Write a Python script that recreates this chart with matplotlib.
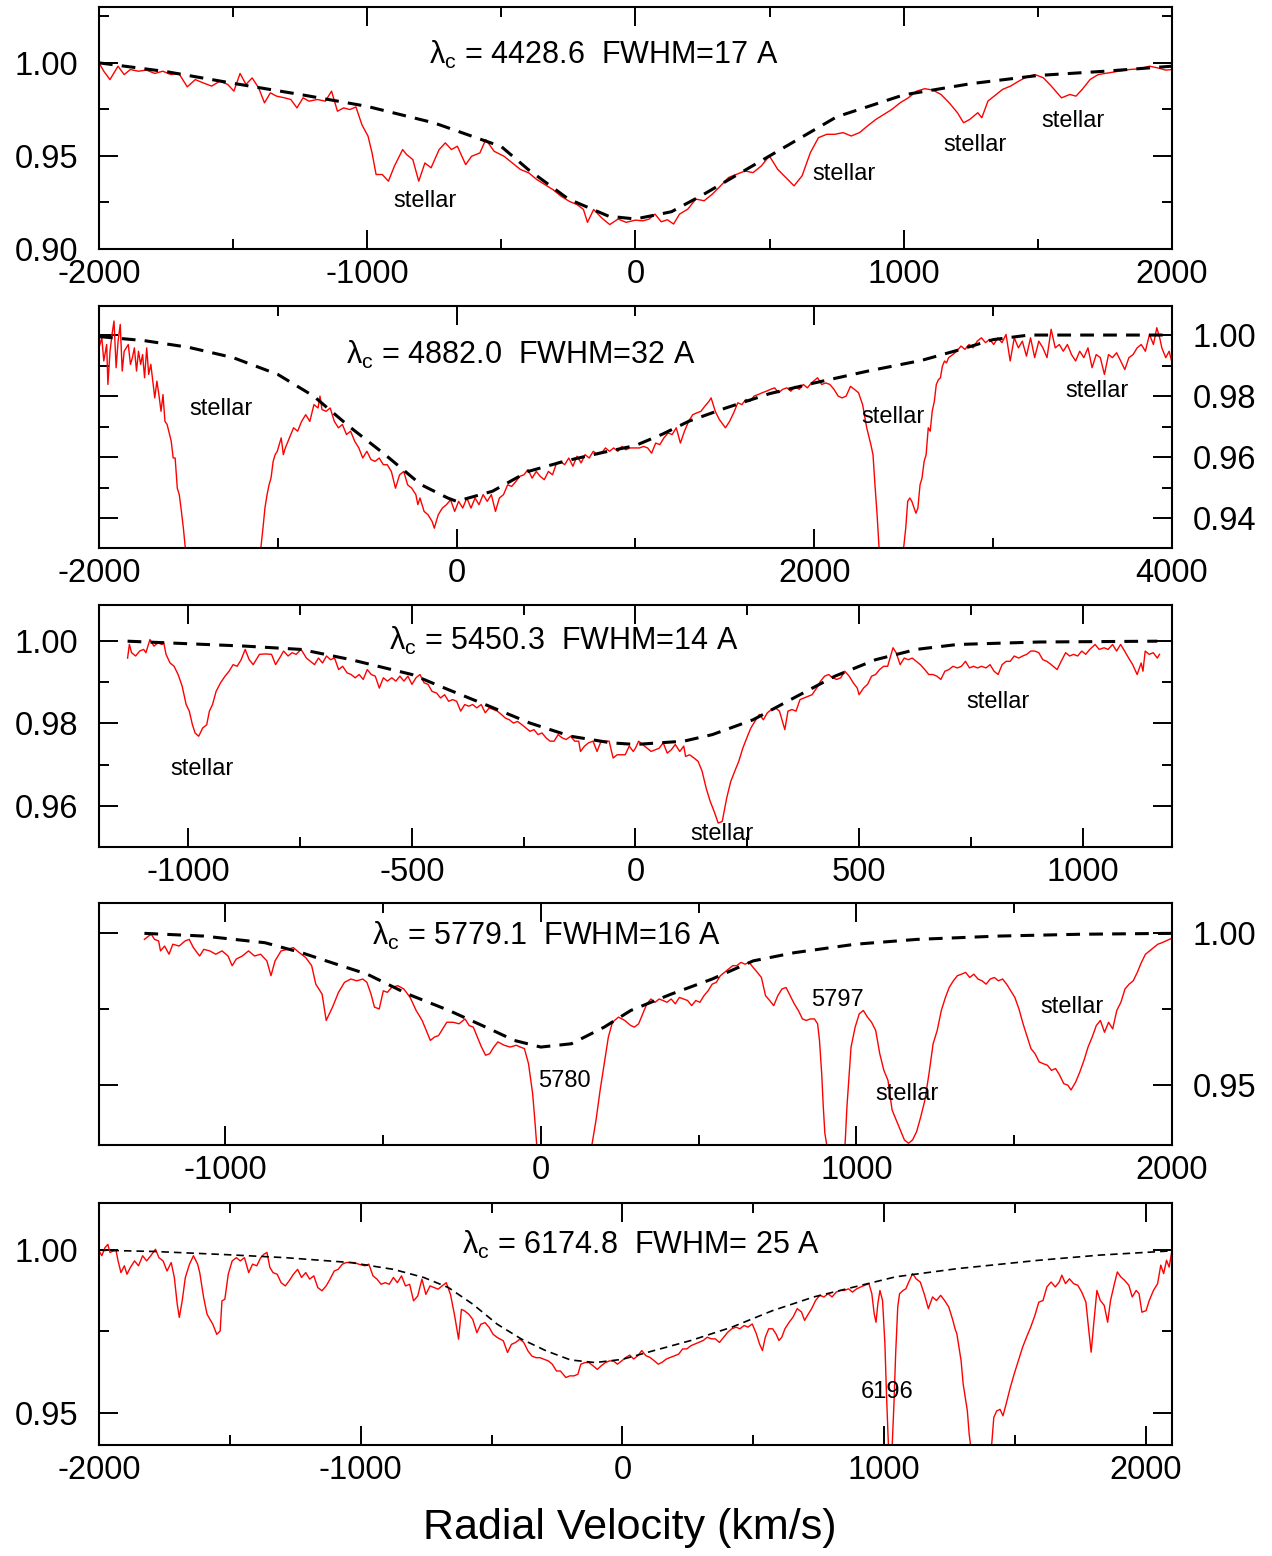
import numpy as np
import matplotlib
matplotlib.use('Agg')
import matplotlib.pyplot as plt
from matplotlib.ticker import MultipleLocator, FormatStrFormatter

plt.rcParams['font.family'] = ['Liberation Sans', 'DejaVu Sans']
plt.rcParams['mathtext.fontset'] = 'custom'
plt.rcParams['mathtext.rm'] = 'Liberation Sans'
plt.rcParams['mathtext.it'] = 'Liberation Sans:italic'
plt.rcParams['mathtext.default'] = 'regular'
plt.rcParams['axes.unicode_minus'] = False

# ---------------- Panel 1 : 4428.6 ----------------
p1_spectrum = [
    (-2000, 1.000), (-1982, 0.9955), (-1959, 0.9910), (-1929, 0.9982), (-1906, 0.9937),
    (-1883, 0.9964), (-1853, 0.9955), (-1823, 0.9961), (-1792, 0.9943), (-1762, 0.9955),
    (-1732, 0.9937), (-1702, 0.9943), (-1671, 0.9871), (-1641, 0.9910), (-1611, 0.9892),
    (-1580, 0.9875), (-1550, 0.9901), (-1520, 0.9884), (-1497, 0.9848), (-1474, 0.9943),
    (-1452, 0.9884), (-1429, 0.9919), (-1405, 0.9866), (-1383, 0.9785), (-1361, 0.9839),
    (-1338, 0.9821), (-1308, 0.9812), (-1285, 0.9803), (-1262, 0.9758), (-1239, 0.9812),
    (-1217, 0.9794), (-1186, 0.9803), (-1156, 0.9794), (-1133, 0.9848), (-1111, 0.9740),
    (-1088, 0.9758), (-1065, 0.9749), (-1042, 0.9763), (-1020, 0.9668), (-997, 0.9606),
    (-982, 0.9516), (-967, 0.9400), (-944, 0.9400), (-921, 0.9364), (-899, 0.9444),
    (-868, 0.9534), (-853, 0.9507), (-830, 0.9480), (-808, 0.9364), (-785, 0.9462),
    (-762, 0.9436), (-732, 0.9534), (-709, 0.9570), (-686, 0.9534), (-664, 0.9552),
    (-633, 0.9453), (-611, 0.9498), (-580, 0.9516), (-558, 0.9588), (-527, 0.9525),
    (-490, 0.9498), (-459, 0.9462), (-429, 0.9427), (-398, 0.9409), (-368, 0.9373),
    (-338, 0.9346), (-308, 0.9319), (-277, 0.9283), (-247, 0.9256), (-217, 0.9238),
    (-194, 0.9212), (-179, 0.9143), (-156, 0.9212), (-126, 0.9167), (-96, 0.9131),
    (-65, 0.9161), (-35, 0.9143), (0, 0.9155), (27, 0.9151), (50, 0.9160),
    (73, 0.9187), (96, 0.9146), (119, 0.9157), (142, 0.9134), (164, 0.9187),
    (195, 0.9214), (225, 0.9268), (256, 0.9259), (286, 0.9294), (317, 0.9339),
    (347, 0.9384), (378, 0.9402), (408, 0.9419), (438, 0.9410), (469, 0.9446),
    (499, 0.9500), (530, 0.9428), (560, 0.9384), (591, 0.9339), (621, 0.9393),
    (652, 0.9518), (682, 0.9598), (713, 0.9616), (743, 0.9616), (774, 0.9625),
    (804, 0.9607), (835, 0.9625), (865, 0.9661), (896, 0.9696), (926, 0.9723),
    (956, 0.9750), (987, 0.9786), (1017, 0.9812), (1048, 0.9848), (1078, 0.9861),
    (1108, 0.9854), (1139, 0.9830), (1169, 0.9786), (1200, 0.9732), (1223, 0.9678),
    (1246, 0.9696), (1276, 0.9732), (1291, 0.9705), (1314, 0.9795), (1337, 0.9821),
    (1368, 0.9857), (1398, 0.9875), (1429, 0.9902), (1459, 0.9925), (1489, 0.9937),
    (1520, 0.9920), (1550, 0.9875), (1588, 0.9812), (1619, 0.9830), (1642, 0.9821),
    (1665, 0.9857), (1695, 0.9911), (1725, 0.9937), (1764, 0.9946), (1802, 0.9955),
    (1840, 0.9964), (1878, 0.9968), (1916, 0.9982), (1946, 0.9973), (1977, 0.9961),
    (2000, 0.9964),
]
p1_model = [
    (-2000, 1.000), (-1750, 0.9953), (-1500, 0.9890), (-1250, 0.9830), (-1000, 0.9766),
    (-750, 0.9677), (-500, 0.9550), (-400, 0.9427), (-250, 0.9268), (-100, 0.9176),
    (0, 0.9161), (134, 0.9200), (250, 0.9290), (500, 0.9500), (750, 0.9710),
    (1000, 0.9828), (1250, 0.9888), (1500, 0.9932), (1750, 0.9955), (2000, 0.9982),
]

# ---------------- Panel 2 : 4882.0 ----------------
p2_spectrum = [
    (-2000, 0.9958), (-1984, 0.9991), (-1973, 0.9915), (-1957, 0.9969), (-1950, 0.9838),
    (-1938, 0.9947), (-1927, 1.0002), (-1916, 1.0046), (-1904, 0.9893), (-1893, 0.9980),
    (-1881, 1.0035), (-1870, 0.9882), (-1859, 0.9947), (-1836, 0.9969), (-1824, 0.9904),
    (-1813, 0.9926), (-1802, 0.9958), (-1790, 0.9882), (-1779, 0.9947), (-1767, 0.9904),
    (-1756, 0.9936), (-1745, 0.9860), (-1733, 0.9958), (-1722, 0.9871), (-1710, 0.9904),
    (-1699, 0.9849), (-1688, 0.9794), (-1676, 0.9849), (-1665, 0.9805), (-1653, 0.9750),
    (-1642, 0.9805), (-1631, 0.9717), (-1619, 0.9707), (-1596, 0.9652), (-1585, 0.9597),
    (-1574, 0.9597), (-1562, 0.9498), (-1551, 0.9477), (-1539, 0.9422), (-1528, 0.9367),
    (-1517, 0.9301), (-1495, 0.9150), (-1115, 0.9150),
    (-1095, 0.9301), (-1083, 0.9367), (-1072, 0.9433), (-1060, 0.9477), (-1049, 0.9509),
    (-1038, 0.9531), (-1026, 0.9586), (-1015, 0.9608), (-1003, 0.9619), (-981, 0.9663),
    (-969, 0.9608), (-958, 0.9630), (-935, 0.9663), (-912, 0.9696), (-889, 0.9685),
    (-867, 0.9717), (-844, 0.9739), (-821, 0.9717), (-798, 0.9772), (-775, 0.9761),
    (-764, 0.9800), (-753, 0.9756), (-730, 0.9750), (-707, 0.9761), (-684, 0.9717),
    (-661, 0.9696), (-639, 0.9707), (-616, 0.9674), (-593, 0.9685), (-570, 0.9652),
    (-547, 0.9630), (-525, 0.9597), (-502, 0.9619), (-479, 0.9592), (-456, 0.9586),
    (-433, 0.9597), (-410, 0.9575), (-388, 0.9575), (-365, 0.9553), (-342, 0.9498),
    (-319, 0.9542), (-296, 0.9553), (-274, 0.9509), (-251, 0.9498), (-228, 0.9477),
    (-217, 0.9444), (-205, 0.9466), (-182, 0.9422), (-160, 0.9411), (-137, 0.9389),
    (-125, 0.9367), (-103, 0.9411), (-80, 0.9433), (-57, 0.9444), (-34, 0.9460),
    (-11, 0.9422), (11, 0.9455), (34, 0.9433), (57, 0.9466), (80, 0.9433),
    (103, 0.9466), (125, 0.9444), (148, 0.9477), (171, 0.9455), (194, 0.9477),
    (217, 0.9422), (239, 0.9466), (262, 0.9477), (285, 0.9509), (308, 0.9504),
    (331, 0.9520), (353, 0.9537), (376, 0.9542), (399, 0.9559), (422, 0.9531),
    (445, 0.9553), (467, 0.9537), (490, 0.9526), (513, 0.9553), (536, 0.9542),
    (559, 0.9581), (581, 0.9586), (604, 0.9575), (627, 0.9597), (650, 0.9570),
    (673, 0.9603), (696, 0.9581), (718, 0.9608), (741, 0.9597), (764, 0.9619),
    (787, 0.9608), (810, 0.9613), (832, 0.9630), (855, 0.9619), (878, 0.9630),
    (901, 0.9619), (924, 0.9635), (946, 0.9624), (969, 0.9630), (992, 0.9630),
    (1015, 0.9630), (1022, 0.9630), (1045, 0.9635), (1068, 0.9630), (1090, 0.9613),
    (1113, 0.9646), (1136, 0.9641), (1159, 0.9663), (1182, 0.9679), (1205, 0.9674),
    (1228, 0.9696), (1251, 0.9646), (1274, 0.9685), (1297, 0.9717), (1320, 0.9739),
    (1343, 0.9745), (1366, 0.9750), (1388, 0.9767), (1411, 0.9783), (1423, 0.9794),
    (1446, 0.9750), (1469, 0.9723), (1503, 0.9696), (1526, 0.9717), (1549, 0.9745),
    (1572, 0.9778), (1595, 0.9772), (1617, 0.9789), (1640, 0.9783), (1663, 0.9800),
    (1686, 0.9805), (1709, 0.9811), (1732, 0.9816), (1755, 0.9822), (1778, 0.9827),
    (1800, 0.9811), (1823, 0.9822), (1846, 0.9827), (1869, 0.9816), (1892, 0.9832),
    (1915, 0.9822), (1938, 0.9838), (1961, 0.9827), (1984, 0.9843), (2018, 0.9860),
    (2041, 0.9838), (2064, 0.9843), (2087, 0.9838), (2110, 0.9822), (2133, 0.9800),
    (2155, 0.9794), (2178, 0.9800), (2202, 0.9832), (2224, 0.9822), (2247, 0.9811),
    (2270, 0.9772), (2293, 0.9696), (2316, 0.9641), (2328, 0.9608), (2339, 0.9509),
    (2351, 0.9411), (2362, 0.9301), (2380, 0.9150), (2490, 0.9150),
    (2499, 0.9301), (2511, 0.9367), (2522, 0.9455), (2534, 0.9466), (2545, 0.9455),
    (2568, 0.9416), (2579, 0.9433), (2591, 0.9509), (2602, 0.9531), (2614, 0.9586),
    (2625, 0.9608), (2637, 0.9696), (2648, 0.9685), (2659, 0.9750), (2671, 0.9783),
    (2682, 0.9838), (2694, 0.9854), (2705, 0.9860), (2716, 0.9898), (2728, 0.9915),
    (2739, 0.9909), (2751, 0.9926), (2774, 0.9936), (2797, 0.9947), (2820, 0.9964),
    (2842, 0.9953), (2865, 0.9969), (2888, 0.9958), (2911, 0.9980), (2934, 0.9991),
    (2957, 0.9975), (2980, 0.9986), (3003, 0.9969), (3026, 0.9991), (3049, 0.9975),
    (3072, 1.0002), (3095, 0.9915), (3118, 0.9991), (3141, 0.9958), (3163, 0.9980),
    (3186, 0.9931), (3209, 0.9991), (3232, 0.9926), (3255, 0.9980), (3278, 0.9958),
    (3301, 0.9926), (3324, 1.0019), (3347, 0.9958), (3370, 0.9969), (3392, 0.9947),
    (3415, 0.9969), (3438, 0.9936), (3461, 0.9915), (3484, 0.9947), (3507, 0.9926),
    (3530, 0.9958), (3553, 0.9893), (3576, 0.9936), (3599, 0.9926), (3622, 0.9871),
    (3645, 0.9936), (3667, 0.9926), (3690, 0.9942), (3713, 0.9915), (3736, 0.9887),
    (3759, 0.9926), (3782, 0.9936), (3805, 0.9958), (3828, 0.9969), (3851, 0.9947),
    (3874, 1.0002), (3896, 0.9969), (3915, 1.0024), (3931, 0.9991), (3943, 0.9958),
    (3965, 0.9926), (3984, 0.9947), (4000, 0.9909),
]
p2_model = [
    (-2000, 0.9995), (-1750, 0.9982), (-1500, 0.9960), (-1250, 0.9926), (-1000, 0.9871),
    (-800, 0.9800), (-600, 0.9700), (-400, 0.9608), (-200, 0.9510), (-50, 0.9466),
    (0, 0.9455), (200, 0.9488), (400, 0.9553), (600, 0.9586), (800, 0.9613),
    (1000, 0.9638), (1150, 0.9675), (1300, 0.9718), (1500, 0.9760), (1750, 0.9808),
    (2000, 0.9843), (2300, 0.9882), (2600, 0.9917), (2800, 0.9950), (3000, 0.9985),
    (3200, 1.000), (4000, 1.000),
]

# ---------------- Panel 3 : 5450.3 ----------------
p3_spectrum = [
    (-1136, 0.9959), (-1132, 0.9992), (-1127, 0.9972), (-1118, 0.9964), (-1109, 0.9976),
    (-1100, 0.9980), (-1095, 0.9972), (-1086, 1.0004), (-1077, 0.9988), (-1068, 0.9996),
    (-1059, 0.9992), (-1055, 0.9996), (-1050, 0.9968), (-1041, 0.9947), (-1032, 0.9939),
    (-1023, 0.9919), (-1014, 0.9891), (-1005, 0.9846), (-998, 0.9830), (-991, 0.9797),
    (-985, 0.9777), (-977, 0.9769), (-968, 0.9789), (-959, 0.9797), (-953, 0.9830),
    (-946, 0.9846), (-938, 0.9878), (-928, 0.9899), (-918, 0.9915), (-909, 0.9927),
    (-900, 0.9943), (-891, 0.9939), (-882, 0.9955), (-873, 0.9980), (-864, 0.9955),
    (-855, 0.9943), (-841, 0.9968), (-828, 0.9969), (-814, 0.9968), (-805, 0.9943),
    (-796, 0.9959), (-787, 0.9976), (-777, 0.9964), (-768, 0.9972), (-759, 0.9968),
    (-748, 0.9980), (-736, 0.9959), (-727, 0.9951), (-718, 0.9943), (-709, 0.9959),
    (-700, 0.9947), (-691, 0.9964), (-682, 0.9955), (-673, 0.9959), (-664, 0.9931),
    (-655, 0.9939), (-645, 0.9923), (-636, 0.9919), (-627, 0.9911), (-618, 0.9919),
    (-609, 0.9907), (-600, 0.9931), (-591, 0.9919), (-582, 0.9915), (-573, 0.9886),
    (-564, 0.9911), (-555, 0.9903), (-545, 0.9911), (-536, 0.9903), (-527, 0.9915),
    (-518, 0.9903), (-509, 0.9915), (-500, 0.9895), (-491, 0.9911), (-482, 0.9919),
    (-473, 0.9899), (-464, 0.9895), (-455, 0.9878), (-445, 0.9874), (-436, 0.9862),
    (-427, 0.9870), (-418, 0.9854), (-409, 0.9858), (-400, 0.9854), (-391, 0.9830),
    (-382, 0.9846), (-373, 0.9842), (-364, 0.9846), (-355, 0.9838), (-345, 0.9846),
    (-336, 0.9826), (-327, 0.9838), (-318, 0.9834), (-309, 0.9830), (-300, 0.9822),
    (-291, 0.9813), (-282, 0.9809), (-273, 0.9801), (-264, 0.9805), (-254, 0.9797),
    (-245, 0.9789), (-236, 0.9781), (-227, 0.9785), (-218, 0.9773), (-209, 0.9777),
    (-200, 0.9765), (-191, 0.9757), (-182, 0.9757), (-173, 0.9773), (-164, 0.9765),
    (-155, 0.9761), (-145, 0.9769), (-136, 0.9757), (-127, 0.9757), (-123, 0.9732),
    (-114, 0.9745), (-105, 0.9753), (-95, 0.9757), (-86, 0.9732), (-77, 0.9757),
    (-68, 0.9757), (-59, 0.9757), (-50, 0.9716), (-41, 0.9724), (-32, 0.9724),
    (-23, 0.9724), (-14, 0.9745), (-5, 0.9732), (0, 0.9740), (7, 0.9757),
    (16, 0.9749), (26, 0.9740), (35, 0.9732), (44, 0.9736), (53, 0.9740),
    (62, 0.9753), (71, 0.9728), (80, 0.9736), (89, 0.9749), (99, 0.9732),
    (108, 0.9745), (112, 0.9720), (121, 0.9724), (131, 0.9716), (140, 0.9708),
    (149, 0.9684), (158, 0.9643), (167, 0.9611), (176, 0.9586), (185, 0.9558),
    (194, 0.9562), (204, 0.9619), (213, 0.9659), (222, 0.9684), (231, 0.9708),
    (240, 0.9740), (249, 0.9765), (258, 0.9789), (267, 0.9805), (277, 0.9822),
    (286, 0.9809), (295, 0.9826), (304, 0.9834), (313, 0.9838), (322, 0.9830),
    (334, 0.9785), (341, 0.9830), (350, 0.9834), (359, 0.9830), (368, 0.9858),
    (377, 0.9862), (386, 0.9866), (395, 0.9870), (405, 0.9886), (414, 0.9903),
    (423, 0.9915), (432, 0.9919), (441, 0.9911), (450, 0.9907), (459, 0.9911),
    (468, 0.9927), (478, 0.9915), (487, 0.9899), (496, 0.9886), (500, 0.9870),
    (510, 0.9886), (519, 0.9895), (528, 0.9915), (537, 0.9919), (546, 0.9931),
    (555, 0.9939), (564, 0.9939), (576, 0.9984), (583, 0.9972), (592, 0.9943),
    (601, 0.9959), (610, 0.9955), (619, 0.9959), (628, 0.9951), (637, 0.9943),
    (647, 0.9931), (656, 0.9919), (665, 0.9919), (674, 0.9915), (683, 0.9907),
    (692, 0.9927), (701, 0.9931), (710, 0.9939), (720, 0.9935), (729, 0.9939),
    (738, 0.9951), (747, 0.9935), (756, 0.9939), (765, 0.9935), (774, 0.9939),
    (784, 0.9935), (793, 0.9943), (802, 0.9927), (811, 0.9919), (820, 0.9943),
    (829, 0.9951), (838, 0.9951), (847, 0.9964), (857, 0.9959), (866, 0.9964),
    (875, 0.9968), (884, 0.9976), (893, 0.9976), (902, 0.9972), (911, 0.9955),
    (920, 0.9951), (930, 0.9943), (943, 0.9931), (952, 0.9951), (962, 0.9972),
    (971, 0.9964), (980, 0.9968), (989, 0.9964), (998, 0.9976), (1007, 0.9968),
    (1016, 0.9980), (1028, 0.9992), (1037, 0.9980), (1048, 0.9984), (1057, 0.9980),
    (1067, 0.9992), (1076, 0.9976), (1085, 0.9992), (1094, 0.9976), (1103, 0.9959),
    (1112, 0.9943), (1122, 0.9919), (1131, 0.9947), (1135, 0.9927), (1140, 0.9976),
    (1149, 0.9968), (1158, 0.9972), (1167, 0.9959), (1172, 0.9968),
]
p3_model = [
    (-1136, 1.000), (-873, 0.9988), (-748, 0.9980), (-636, 0.9955), (-500, 0.9919),
    (-418, 0.9882), (-327, 0.9842), (-236, 0.9801), (-145, 0.9769), (-55, 0.9753),
    (0, 0.9749), (108, 0.9757), (172, 0.9773), (263, 0.9809), (354, 0.9862),
    (446, 0.9915), (537, 0.9955), (628, 0.9980), (720, 0.9992), (902, 0.9998),
    (1167, 1.000),
]

# ---------------- Panel 4 : 5779.1 ----------------
p4_spectrum = [
    (-1256, 0.9980), (-1243, 0.9991), (-1234, 0.9997), (-1224, 0.9980), (-1211, 0.9975),
    (-1205, 0.9942), (-1192, 0.9958), (-1178, 0.9931), (-1166, 0.9964), (-1146, 0.9958),
    (-1127, 0.9975), (-1114, 0.9980), (-1101, 0.9953), (-1081, 0.9925), (-1068, 0.9947),
    (-1049, 0.9942), (-1030, 0.9931), (-1010, 0.9942), (-991, 0.9925), (-978, 0.9893),
    (-965, 0.9915), (-946, 0.9925), (-926, 0.9942), (-907, 0.9925), (-888, 0.9931),
    (-868, 0.9909), (-855, 0.9860), (-842, 0.9909), (-823, 0.9942), (-803, 0.9947),
    (-784, 0.9953), (-765, 0.9936), (-745, 0.9920), (-726, 0.9893), (-713, 0.9832),
    (-693, 0.9799), (-680, 0.9712), (-660, 0.9756), (-641, 0.9805), (-622, 0.9838),
    (-602, 0.9849), (-583, 0.9843), (-564, 0.9849), (-551, 0.9838), (-538, 0.9799),
    (-527, 0.9756), (-512, 0.9750), (-499, 0.9810), (-486, 0.9805), (-473, 0.9821),
    (-453, 0.9827), (-434, 0.9816), (-414, 0.9788), (-395, 0.9745), (-376, 0.9712),
    (-363, 0.9679), (-350, 0.9646), (-337, 0.9657), (-324, 0.9662), (-311, 0.9684),
    (-298, 0.9706), (-278, 0.9706), (-259, 0.9701), (-240, 0.9717), (-227, 0.9695),
    (-214, 0.9690), (-201, 0.9657), (-188, 0.9624), (-175, 0.9597), (-162, 0.9602),
    (-149, 0.9624), (-136, 0.9641), (-116, 0.9630), (-97, 0.9624), (-78, 0.9630),
    (-65, 0.9624), (-52, 0.9619), (-39, 0.9569), (-26, 0.9471), (-19, 0.9383),
    (-13, 0.9301), (-5, 0.9150), (150, 0.9150),
    (162, 0.9301), (175, 0.9383), (188, 0.9482), (201, 0.9569), (214, 0.9657),
    (227, 0.9706), (246, 0.9723), (266, 0.9712), (285, 0.9695), (297, 0.9690),
    (310, 0.9701), (323, 0.9734), (336, 0.9767), (349, 0.9783), (362, 0.9772),
    (375, 0.9783), (387, 0.9778), (400, 0.9772), (413, 0.9783), (426, 0.9767),
    (439, 0.9788), (452, 0.9783), (465, 0.9778), (478, 0.9761), (491, 0.9778),
    (504, 0.9772), (517, 0.9794), (530, 0.9810), (543, 0.9832), (556, 0.9838),
    (569, 0.9860), (582, 0.9871), (595, 0.9882), (608, 0.9893), (621, 0.9893),
    (634, 0.9904), (647, 0.9898), (660, 0.9904), (673, 0.9887), (686, 0.9871),
    (699, 0.9854), (712, 0.9794), (725, 0.9778), (738, 0.9761), (751, 0.9794),
    (764, 0.9816), (777, 0.9821), (790, 0.9794), (803, 0.9767), (816, 0.9745),
    (829, 0.9717), (841, 0.9712), (854, 0.9717), (867, 0.9717), (877, 0.9701),
    (883, 0.9646), (890, 0.9536), (895, 0.9427), (900, 0.9339), (906, 0.9301),
    (912, 0.9150), (958, 0.9150),
    (964, 0.9301), (970, 0.9427), (977, 0.9536), (983, 0.9624), (996, 0.9690),
    (1009, 0.9734), (1022, 0.9745), (1035, 0.9723), (1048, 0.9706), (1061, 0.9679),
    (1074, 0.9602), (1087, 0.9547), (1100, 0.9514), (1113, 0.9416), (1126, 0.9383),
    (1139, 0.9350), (1152, 0.9317), (1165, 0.9306), (1178, 0.9317), (1191, 0.9345),
    (1204, 0.9394), (1217, 0.9449), (1230, 0.9536), (1243, 0.9635), (1256, 0.9679),
    (1269, 0.9745), (1282, 0.9788), (1294, 0.9821), (1307, 0.9843), (1320, 0.9860),
    (1333, 0.9865), (1346, 0.9871), (1359, 0.9854), (1372, 0.9865), (1385, 0.9849),
    (1398, 0.9843), (1411, 0.9832), (1424, 0.9849), (1437, 0.9854), (1450, 0.9843),
    (1463, 0.9849), (1476, 0.9832), (1489, 0.9810), (1502, 0.9788), (1515, 0.9750),
    (1528, 0.9701), (1540, 0.9662), (1553, 0.9619), (1566, 0.9602), (1579, 0.9575),
    (1592, 0.9569), (1605, 0.9564), (1618, 0.9547), (1631, 0.9553), (1644, 0.9531),
    (1657, 0.9503), (1670, 0.9498), (1680, 0.9482), (1695, 0.9509), (1708, 0.9542),
    (1721, 0.9580), (1734, 0.9624), (1747, 0.9657), (1760, 0.9695), (1773, 0.9712),
    (1786, 0.9673), (1799, 0.9706), (1812, 0.9684), (1825, 0.9745), (1838, 0.9772),
    (1851, 0.9816), (1864, 0.9832), (1877, 0.9843), (1890, 0.9871), (1903, 0.9904),
    (1916, 0.9931), (1929, 0.9942), (1942, 0.9953), (1955, 0.9964), (1968, 0.9969),
    (1981, 0.9975), (1991, 0.9980), (2000, 0.9984),
]
p4_model = [
    (-1256, 1.000), (-1068, 0.9991), (-874, 0.9969), (-758, 0.9936), (-680, 0.9909),
    (-550, 0.9865), (-421, 0.9799), (-291, 0.9745), (-162, 0.9684), (-84, 0.9646),
    (0, 0.9624), (97, 0.9635), (201, 0.9690), (285, 0.9745), (413, 0.9799),
    (543, 0.9849), (673, 0.9909), (803, 0.9936), (996, 0.9964), (1191, 0.9980),
    (1450, 0.9991), (1708, 0.9997), (2000, 1.000),
]

# ---------------- Panel 5 : 6174.8 ----------------
p5_spectrum = [
    (-2000, 0.9998), (-1989, 0.9983), (-1977, 1.0008), (-1966, 1.0018), (-1958, 0.9993),
    (-1945, 0.9998), (-1935, 1.0000), (-1927, 0.9967), (-1916, 0.9931), (-1903, 0.9952),
    (-1893, 0.9926), (-1880, 0.9947), (-1864, 0.9967), (-1849, 0.9952), (-1833, 0.9983),
    (-1818, 0.9967), (-1802, 0.9983), (-1784, 1.0003), (-1771, 0.9977), (-1755, 0.9967),
    (-1740, 0.9936), (-1724, 0.9962), (-1712, 0.9916), (-1701, 0.9834), (-1693, 0.9793),
    (-1682, 0.9844), (-1670, 0.9916), (-1654, 0.9957), (-1639, 0.9983), (-1623, 0.9957),
    (-1615, 0.9931), (-1600, 0.9854), (-1587, 0.9803), (-1576, 0.9787), (-1565, 0.9772),
    (-1550, 0.9741), (-1537, 0.9751), (-1530, 0.9844), (-1519, 0.9849), (-1506, 0.9926),
    (-1491, 0.9967), (-1475, 0.9977), (-1460, 0.9967), (-1444, 0.9977), (-1428, 0.9931),
    (-1413, 0.9957), (-1397, 0.9952), (-1382, 0.9977), (-1369, 0.9988), (-1358, 0.9993),
    (-1347, 0.9947), (-1335, 0.9931), (-1319, 0.9926), (-1304, 0.9900), (-1288, 0.9890),
    (-1273, 0.9906), (-1257, 0.9926), (-1241, 0.9941), (-1226, 0.9916), (-1210, 0.9931),
    (-1195, 0.9911), (-1179, 0.9921), (-1164, 0.9885), (-1148, 0.9875), (-1132, 0.9890),
    (-1117, 0.9911), (-1101, 0.9936), (-1086, 0.9941), (-1070, 0.9957), (-1055, 0.9962),
    (-1039, 0.9962), (-1024, 0.9962), (-1008, 0.9957), (-984, 0.9952), (-969, 0.9957),
    (-953, 0.9921), (-938, 0.9911), (-922, 0.9895), (-906, 0.9900), (-891, 0.9895),
    (-875, 0.9916), (-860, 0.9900), (-844, 0.9921), (-829, 0.9890), (-813, 0.9895),
    (-798, 0.9844), (-782, 0.9859), (-766, 0.9911), (-751, 0.9864), (-735, 0.9890),
    (-720, 0.9885), (-704, 0.9880), (-689, 0.9890), (-673, 0.9900), (-657, 0.9864),
    (-642, 0.9803), (-626, 0.9726), (-615, 0.9818), (-603, 0.9813), (-587, 0.9803),
    (-572, 0.9787), (-556, 0.9746), (-541, 0.9772), (-525, 0.9777), (-509, 0.9762),
    (-494, 0.9741), (-478, 0.9731), (-455, 0.9721), (-439, 0.9685), (-424, 0.9710),
    (-408, 0.9716), (-392, 0.9726), (-377, 0.9716), (-361, 0.9690), (-346, 0.9674),
    (-330, 0.9669), (-315, 0.9669), (-299, 0.9664), (-283, 0.9659), (-268, 0.9649),
    (-252, 0.9628), (-237, 0.9628), (-216, 0.9608), (-201, 0.9613), (-185, 0.9613),
    (-170, 0.9618), (-159, 0.9649), (-143, 0.9654), (-128, 0.9654), (-112, 0.9644),
    (-96, 0.9633), (-81, 0.9644), (-65, 0.9654), (-50, 0.9659), (-34, 0.9659),
    (-19, 0.9649), (-3, 0.9659), (12, 0.9669), (28, 0.9677), (43, 0.9665),
    (59, 0.9675), (74, 0.9691), (90, 0.9675), (105, 0.9670), (121, 0.9660),
    (137, 0.9649), (152, 0.9655), (168, 0.9665), (184, 0.9670), (199, 0.9675),
    (215, 0.9680), (230, 0.9696), (246, 0.9696), (262, 0.9706), (277, 0.9711),
    (293, 0.9716), (309, 0.9722), (324, 0.9732), (340, 0.9727), (355, 0.9727),
    (371, 0.9716), (387, 0.9732), (402, 0.9747), (418, 0.9758), (434, 0.9763),
    (449, 0.9758), (465, 0.9768), (480, 0.9763), (496, 0.9773), (512, 0.9742),
    (524, 0.9711), (535, 0.9691), (546, 0.9732), (559, 0.9758), (574, 0.9758),
    (587, 0.9742), (598, 0.9722), (609, 0.9732), (621, 0.9758), (637, 0.9778),
    (652, 0.9794), (668, 0.9820), (684, 0.9810), (696, 0.9784), (707, 0.9799),
    (723, 0.9820), (738, 0.9845), (754, 0.9861), (770, 0.9856), (786, 0.9866),
    (801, 0.9856), (817, 0.9871), (833, 0.9876), (848, 0.9876), (864, 0.9881),
    (879, 0.9871), (895, 0.9881), (911, 0.9887), (926, 0.9892), (942, 0.9897),
    (953, 0.9866), (962, 0.9804), (969, 0.9778), (976, 0.9835), (984, 0.9876),
    (994, 0.9845), (1003, 0.9711), (1009, 0.9557), (1016, 0.9402), (1021, 0.9300),
    (1026, 0.9300), (1031, 0.9402), (1038, 0.9536), (1044, 0.9680), (1052, 0.9825),
    (1059, 0.9866), (1072, 0.9876), (1083, 0.9881), (1094, 0.9902), (1109, 0.9928),
    (1122, 0.9912), (1138, 0.9902), (1153, 0.9866), (1169, 0.9820), (1185, 0.9856),
    (1200, 0.9845), (1216, 0.9861), (1231, 0.9845), (1247, 0.9825), (1263, 0.9783),
    (1271, 0.9758), (1278, 0.9742), (1294, 0.9660), (1302, 0.9588), (1310, 0.9546),
    (1318, 0.9505), (1325, 0.9433), (1330, 0.9402), (1345, 0.9250), (1400, 0.9250),
    (1411, 0.9402), (1419, 0.9485), (1430, 0.9505), (1443, 0.9510), (1454, 0.9490),
    (1466, 0.9526), (1482, 0.9577), (1497, 0.9619), (1513, 0.9660), (1529, 0.9701),
    (1544, 0.9732), (1560, 0.9763), (1576, 0.9799), (1591, 0.9840), (1607, 0.9845),
    (1622, 0.9887), (1638, 0.9902), (1654, 0.9887), (1669, 0.9902), (1679, 0.9923),
    (1693, 0.9897), (1708, 0.9912), (1724, 0.9897), (1740, 0.9892), (1755, 0.9871),
    (1771, 0.9840), (1782, 0.9753), (1791, 0.9686), (1802, 0.9783), (1813, 0.9876),
    (1826, 0.9845), (1841, 0.9830), (1854, 0.9778), (1865, 0.9845), (1880, 0.9897),
    (1891, 0.9933), (1904, 0.9918), (1919, 0.9907), (1935, 0.9892), (1948, 0.9856),
    (1963, 0.9876), (1974, 0.9866), (1985, 0.9809), (2001, 0.9814), (2013, 0.9845),
    (2029, 0.9876), (2045, 0.9897), (2057, 0.9954), (2068, 0.9928), (2079, 0.9969),
    (2089, 0.9948), (2100, 1.0000),
]
p5_model = [
    (-2000, 1.000), (-1787, 0.9996), (-1506, 0.9986), (-1288, 0.9977), (-1039, 0.9962),
    (-875, 0.9941), (-759, 0.9916), (-665, 0.9885), (-572, 0.9834), (-478, 0.9772),
    (-385, 0.9726), (-291, 0.9690), (-198, 0.9662), (-104, 0.9654), (0, 0.9664),
    (121, 0.9691), (262, 0.9722), (418, 0.9763), (574, 0.9814), (731, 0.9856),
    (887, 0.9887), (1044, 0.9918), (1278, 0.9943), (1591, 0.9969), (1826, 0.9985),
    (2100, 0.9998),
]

# titles and annotations
titles = [
    r'$\lambda_{c}$ = 4428.6  FWHM=17 A',
    r'$\lambda_{c}$ = 4882.0  FWHM=32 A',
    r'$\lambda_{c}$ = 5450.3  FWHM=14 A',
    r'$\lambda_{c}$ = 5779.1  FWHM=16 A',
    r'$\lambda_{c}$ = 6174.8  FWHM= 25 A',
]

panels = [
    dict(spec=p1_spectrum, model=p1_model, xlim=(-2000, 2000), ylim=(0.9, 1.03),
         xmaj=1000, xmin=500, ymaj=0.05, ymin=0.025, right=False, mlw=2.2,
         title_pos=(0.4706, 0.80),
         notes=[('stellar', 0.3038, 0.198), ('stellar', 0.6943, 0.310),
                ('stellar', 0.8164, 0.430), ('stellar', 0.9077, 0.529)],
         bottom=0.8400),
    dict(spec=p2_spectrum, model=p2_model, xlim=(-2000, 4000), ylim=(0.9302, 1.0095),
         xmaj=2000, xmin=1000, ymaj=0.02, ymin=0.01, right=True, mlw=2.2,
         title_pos=(0.3933, 0.7975),
         notes=[('stellar', 0.1137, 0.574), ('stellar', 0.740, 0.541),
                ('stellar', 0.930, 0.649)],
         bottom=0.6478),
    dict(spec=p3_spectrum, model=p3_model, xlim=(-1200, 1200), ylim=(0.95, 1.0088),
         xmaj=500, xmin=250, ymaj=0.02, ymin=0.01, right=False, mlw=2.2,
         title_pos=(0.4334, 0.851),
         notes=[('stellar', 0.096, 0.322), ('stellar', 0.5806, 0.054),
                ('stellar', 0.8378, 0.599)],
         bottom=0.4557),
    dict(spec=p4_spectrum, model=p4_model, xlim=(-1400, 2000), ylim=(0.93, 1.01),
         xmaj=1000, xmin=500, ymaj=0.05, ymin=0.025, right=True, mlw=2.2,
         title_pos=(0.4166, 0.864),
         notes=[('5780', 0.4334, 0.264), ('5797', 0.6878, 0.599),
                ('stellar', 0.753, 0.211), ('stellar', 0.9068, 0.570)],
         bottom=0.2641),
    dict(spec=p5_spectrum, model=p5_model, xlim=(-2000, 2100), ylim=(0.94, 1.0145),
         xmaj=1000, xmin=500, ymaj=0.05, ymin=0.025, right=False, mlw=1.2,
         title_pos=(0.5051, 0.826),
         notes=[('6196', 0.7344, 0.219)],
         bottom=0.0713),
]

fig = plt.figure(figsize=(12.72, 15.56), dpi=100)
left, width, height = 0.0778, 0.8436, 0.1555

for p, title in zip(panels, titles):
    ax = fig.add_axes([left, p['bottom'], width, height])
    s = np.array(p['spec'])
    m = np.array(p['model'])
    ax.plot(s[:, 0], s[:, 1], color='#ff0000', lw=1.0, zorder=2)
    ax.plot(m[:, 0], m[:, 1], color='black', lw=p['mlw'], ls=(0, (4.5, 3.0)), zorder=3)
    ax.set_xlim(*p['xlim'])
    ax.set_ylim(*p['ylim'])
    ax.xaxis.set_major_locator(MultipleLocator(p['xmaj']))
    ax.xaxis.set_minor_locator(MultipleLocator(p['xmin']))
    ax.yaxis.set_major_locator(MultipleLocator(p['ymaj']))
    ax.yaxis.set_minor_locator(MultipleLocator(p['ymin']))
    ax.yaxis.set_major_formatter(FormatStrFormatter('%.2f'))
    ax.xaxis.set_major_formatter(FormatStrFormatter('%d'))
    for sp in ax.spines.values():
        sp.set_linewidth(1.5)
    ax.tick_params(which='both', direction='in', top=True, bottom=True,
                   left=True, right=True, width=1.4, labelsize=23.5)
    ax.tick_params(which='major', length=14)
    ax.tick_params(which='minor', length=7.5)
    ax.tick_params(axis='x', which='major', pad=7)
    ax.tick_params(axis='y', which='major', pad=15)
    if p['right']:
        ax.tick_params(axis='y', labelleft=False, labelright=True)
    ax.text(p['title_pos'][0], p['title_pos'][1], title, transform=ax.transAxes,
            ha='center', va='center', fontsize=22)
    for txt, xf, yf in p['notes']:
        ax.text(xf, yf, txt, transform=ax.transAxes, ha='center', va='center',
                fontsize=17)

fig.text(630 / 1272, 1 - 1528 / 1556, 'Radial Velocity (km/s)', ha='center',
         va='center', fontsize=31)

fig.savefig('out.png', dpi=100)
